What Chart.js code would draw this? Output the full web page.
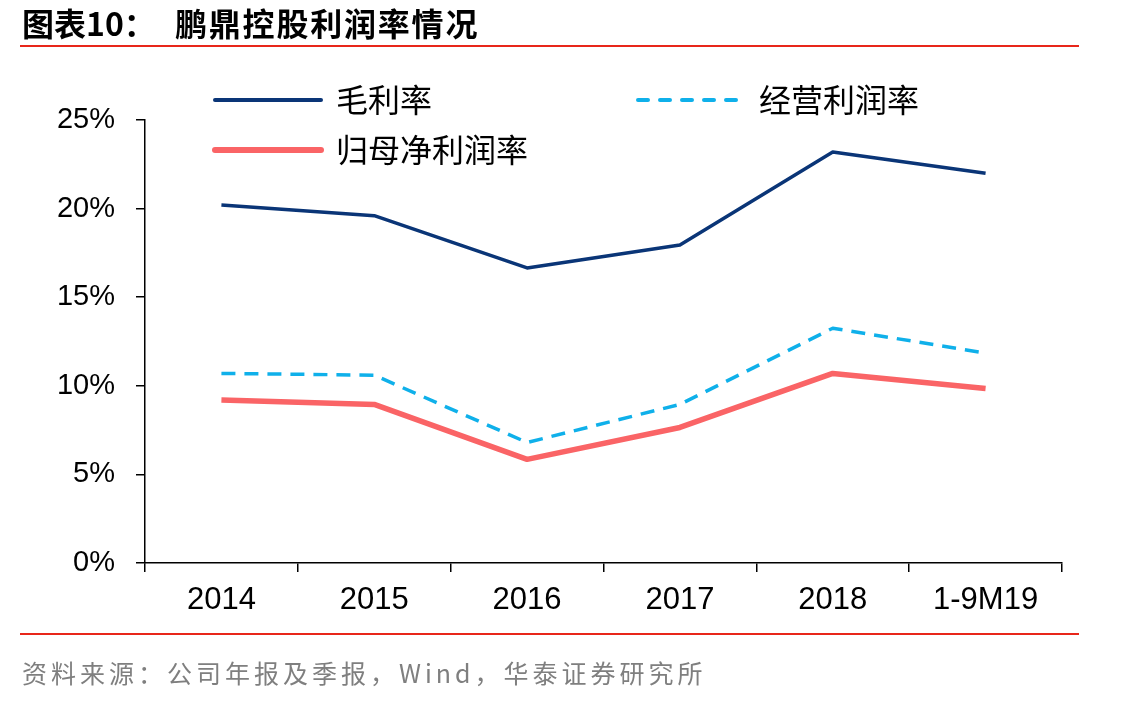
<!DOCTYPE html>
<html>
<head>
<meta charset="utf-8">
<script src="https://cdn.jsdelivr.net/npm/chart.js@4"></script>
<style>
  html, body { margin: 0; padding: 0; background: #fff; }
  #wrap { position: relative; width: 1137px; height: 702px; overflow: hidden; }
  #chart { position: absolute; left: 0; top: 0; }
  .title { position: absolute; top: 0px; line-height: 44px; font-family: "Noto Sans CJK SC", sans-serif; font-weight: 700; font-size: 32px; color: #000; white-space: nowrap; }
  .rule { position: absolute; left: 20px; width: 1059px; height: 2px; background: #e8261a; }
  .source { position: absolute; left: 22px; top: 654px; line-height: 36px; font-family: "Noto Sans CJK SC", sans-serif; font-size: 25px; color: #7f7f7f; white-space: nowrap; letter-spacing: 4px; }
</style>
</head>
<body>
<div id="wrap">
  <canvas id="chart" width="1137" height="702"></canvas>
  <div class="title" style="left:22px">图表10：</div>
  <div class="title" style="left:175px; letter-spacing:1.8px">鹏鼎控股利润率情况</div>
  <div class="rule" style="top:45px"></div>
  <div class="rule" style="top:633px"></div>
  <div class="source">资料来源：公司年报及季报，Wind，华泰证券研究所</div>
</div>
<script>
// 数据
const categories = ['2014', '2015', '2016', '2017', '2018', '1-9M19'];
const grossMargin = [20.2, 19.6, 16.65, 17.95, 23.2, 22.0];      // 毛利率
const operatingMargin = [10.7, 10.6, 6.8, 8.95, 13.25, 11.85];   // 经营利润率
const netMargin = [9.2, 8.95, 5.85, 7.65, 10.7, 9.85];           // 归母净利润率
const yTicks = [0, 5, 10, 15, 20, 25];

// 图例（两列布局）
const legendPos = [
  { x: 215, y: 100 },
  { x: 638, y: 100 },
  { x: 215, y: 150 }
];
const legendPlugin = {
  id: 'legendGrid',
  afterDraw(chart) {
    const ctx = chart.ctx;
    ctx.save();
    chart.data.datasets.forEach((ds, i) => {
      const p = legendPos[i];
      ctx.beginPath();
      ctx.strokeStyle = ds.borderColor;
      ctx.lineWidth = i === 2 ? 6 : 4;
      ctx.lineCap = 'round';
      ctx.setLineDash(ds.borderDash ? [10, 12] : []);
      ctx.moveTo(p.x, p.y);
      ctx.lineTo(p.x + 106, p.y);
      ctx.stroke();
      ctx.setLineDash([]);
      ctx.fillStyle = '#000';
      ctx.font = '32px "Noto Sans CJK SC"';
      ctx.textBaseline = 'middle';
      ctx.fillText(ds.label, p.x + 121, p.y);
    });
    ctx.restore();
  }
};

new Chart(document.getElementById('chart'), {
  type: 'line',
  data: {
    labels: categories,
    datasets: [
      { label: '毛利率', data: grossMargin, borderColor: '#0a3577', borderWidth: 3.5 },
      { label: '经营利润率', data: operatingMargin, borderColor: '#0fb0ea', borderWidth: 3.5, borderDash: [14, 9] },
      { label: '归母净利润率', data: netMargin, borderColor: '#fa6466', borderWidth: 5.5 }
    ]
  },
  options: {
    responsive: false,
    animation: false,
    events: [],
    layout: { padding: { left: 0, top: 120, right: 75, bottom: 0 } },
    elements: {
      point: { radius: 0 },
      line: { tension: 0, borderJoinStyle: 'round', borderCapStyle: 'butt', fill: false }
    },
    plugins: { legend: { display: false }, tooltip: { enabled: false } },
    scales: {
      x: {
        offset: true,
        afterFit: s => { s.height = 139; },
        border: { color: '#000', width: 1.5 },
        grid: { offset: true, drawOnChartArea: false, tickLength: 9, color: '#000', lineWidth: 1.5 },
        ticks: { color: '#000', padding: 10, font: { family: 'Liberation Sans', size: 31 } }
      },
      y: {
        min: 0,
        max: 25,
        afterFit: s => { s.width = 145; },
        afterBuildTicks: s => { s.ticks = yTicks.map(v => ({ value: v })); },
        border: { color: '#000', width: 1.5 },
        grid: { drawOnChartArea: false, tickLength: 9, color: '#000', lineWidth: 1.5 },
        ticks: { color: '#000', padding: 21, font: { family: 'Liberation Sans', size: 29 }, callback: v => v + '%' }
      }
    }
  },
  plugins: [legendPlugin]
});
</script>
</body>
</html>
